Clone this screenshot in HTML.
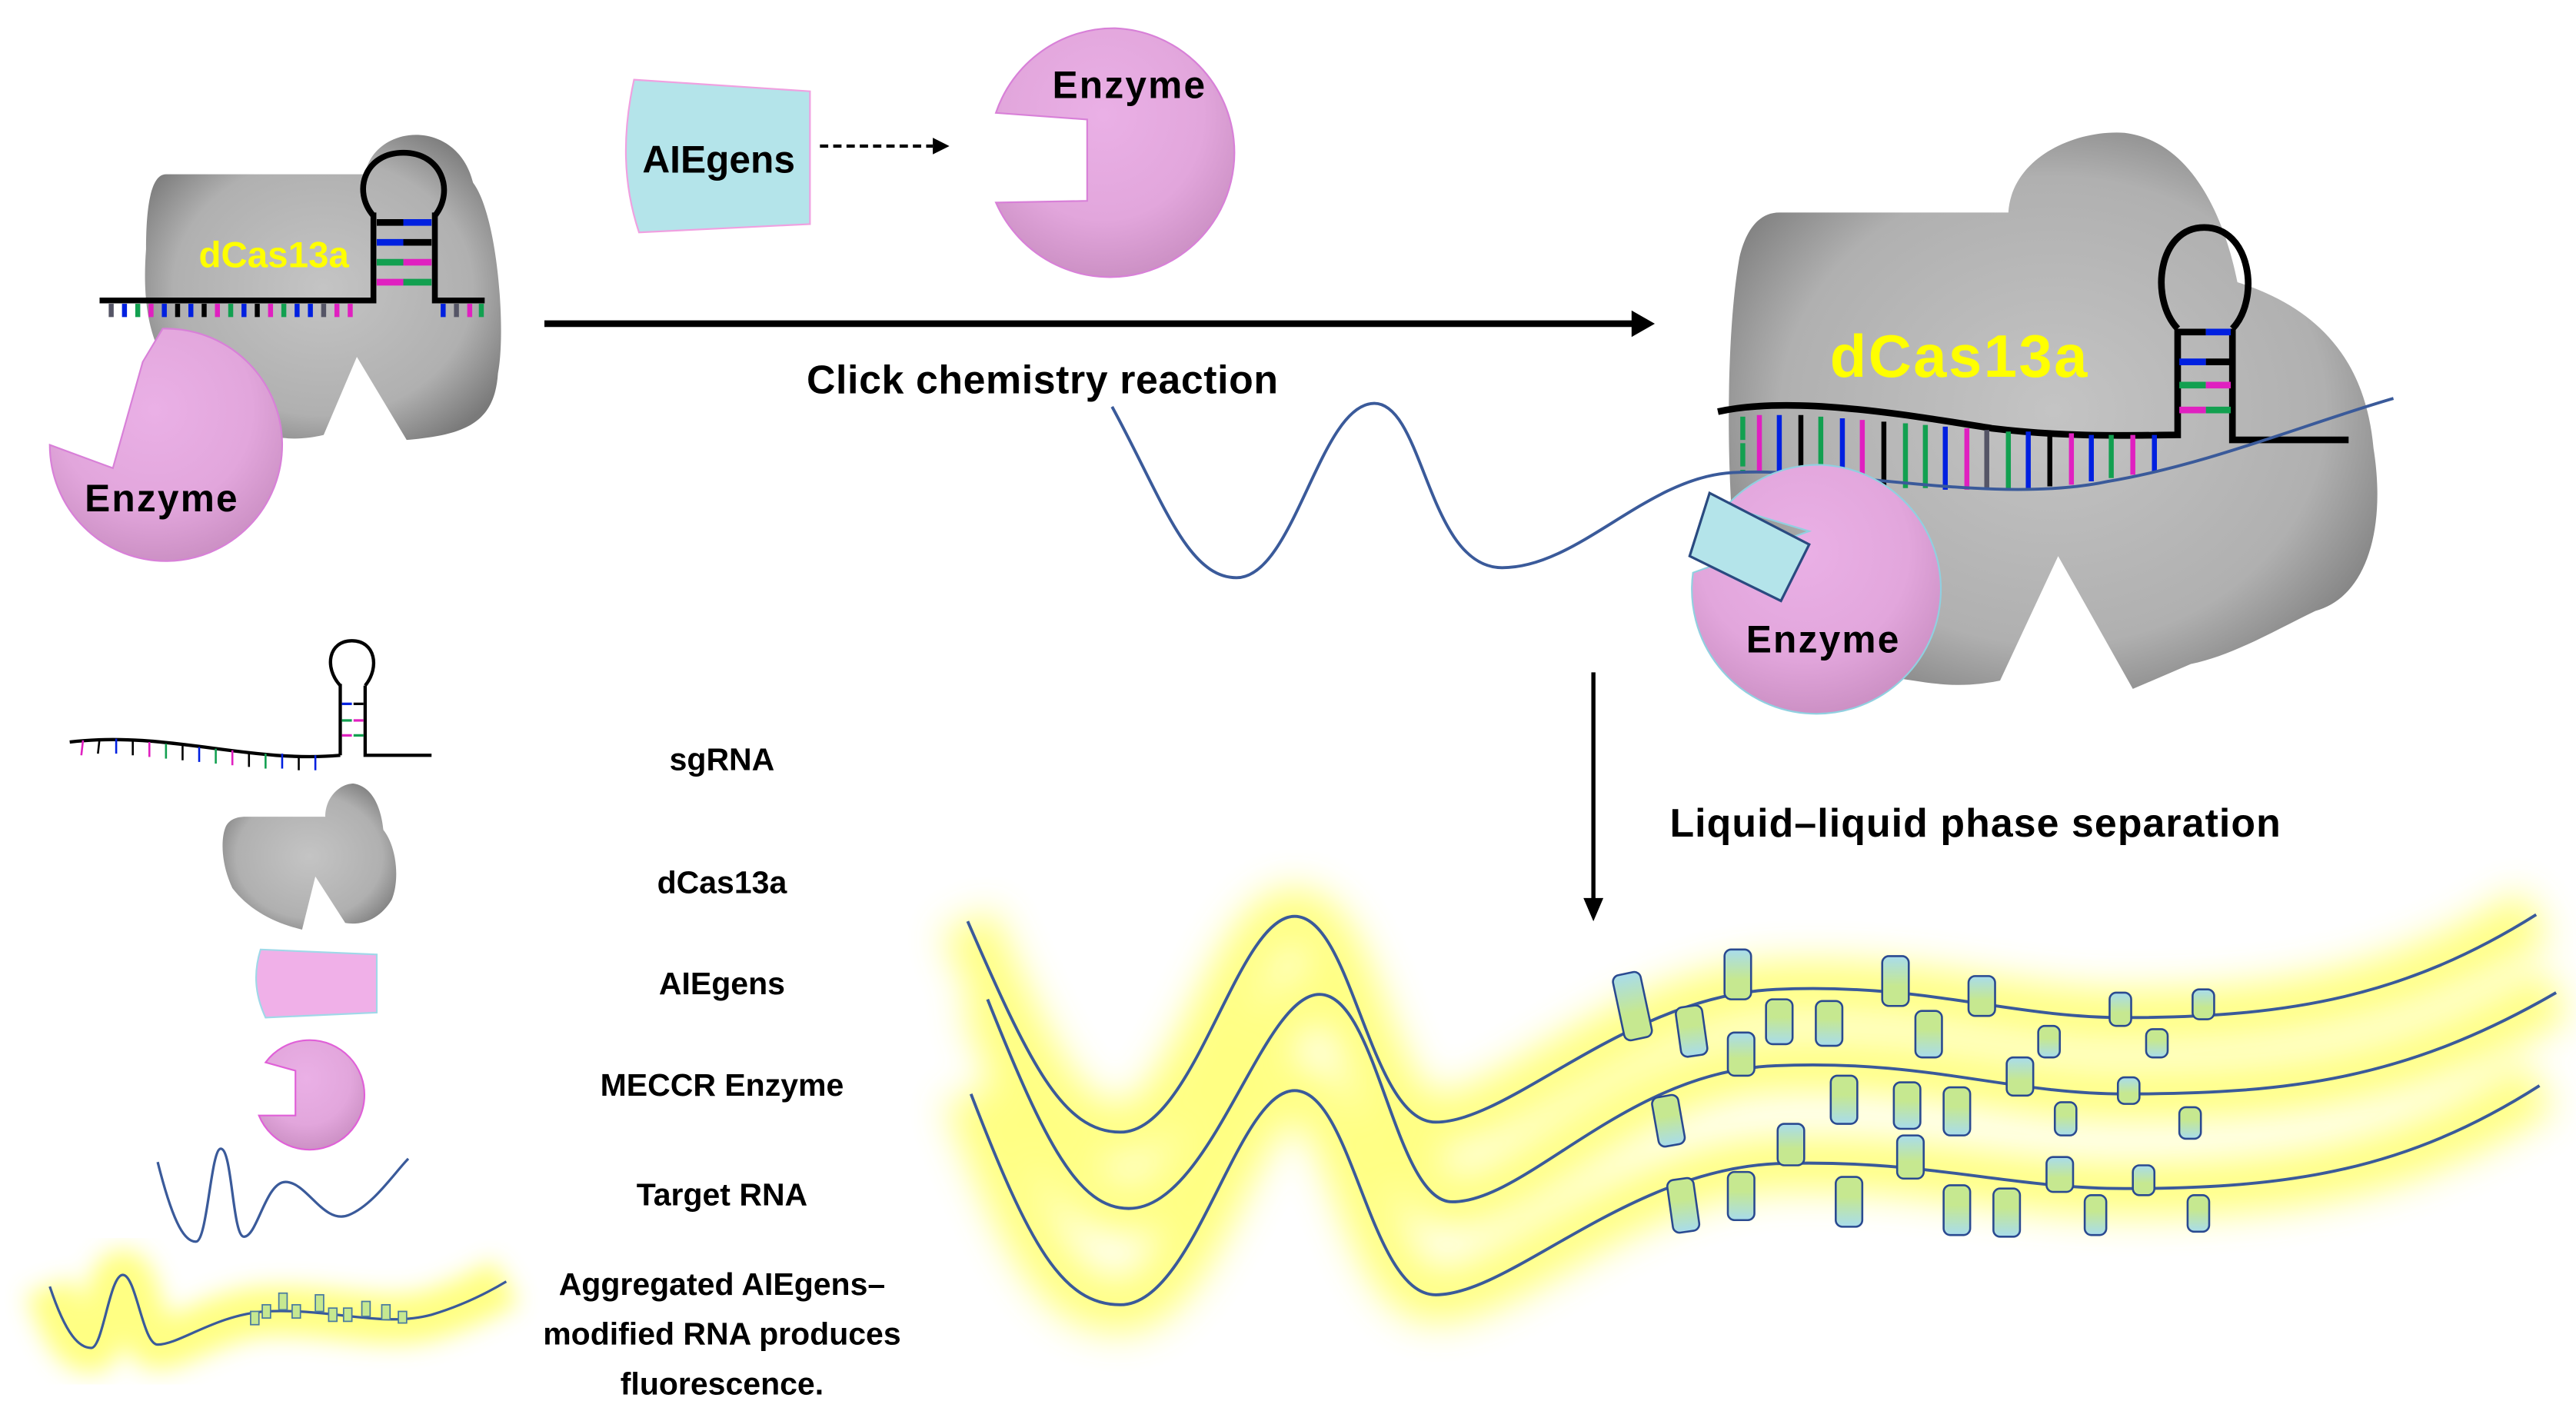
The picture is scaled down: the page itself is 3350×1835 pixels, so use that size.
<!DOCTYPE html>
<html><head><meta charset="utf-8"><style>
html,body{margin:0;padding:0;background:#fff}
svg{display:block}
text{font-family:"Liberation Sans",sans-serif;font-weight:bold}
</style></head><body>
<svg width="3350" height="1835" viewBox="0 0 1552 850" preserveAspectRatio="none" xmlns="http://www.w3.org/2000/svg">
<defs>
<radialGradient id="gray" cx="50%" cy="50%" r="60%"><stop offset="0" stop-color="#c4c4c4"/><stop offset="0.7" stop-color="#b0b0b0"/><stop offset="1" stop-color="#7a7a7a"/></radialGradient>
<radialGradient id="pink" cx="45%" cy="35%" r="70%"><stop offset="0" stop-color="#eab0e6"/><stop offset="0.6" stop-color="#e2a6dc"/><stop offset="1" stop-color="#c88cc0"/></radialGradient>
<linearGradient id="blk" x1="0" y1="0" x2="0" y2="1"><stop offset="0" stop-color="#a8dcec"/><stop offset="0.6" stop-color="#c6e890"/><stop offset="1" stop-color="#c6e890"/></linearGradient>
<linearGradient id="blk2" x1="0" y1="0" x2="0" y2="1"><stop offset="0" stop-color="#c6e890"/><stop offset="0.4" stop-color="#c6e890"/><stop offset="1" stop-color="#a8dcec"/></linearGradient>
<filter id="glow" x="-10%" y="-30%" width="120%" height="160%"><feGaussianBlur stdDeviation="11"/></filter>
<filter id="glow2" x="-10%" y="-50%" width="120%" height="200%"><feGaussianBlur stdDeviation="7"/></filter>
</defs>

<!-- top-left dCas13a -->
<g>
<path d="M100,105 L220,105 C225,75 275,70 285,110 C300,130 305,200 300,225 C298,255 280,262 245,265 L215,215 L195,262 C170,268 150,262 120,240 C92,220 85,190 88,150 C88,120 92,105 100,105Z" fill="url(#gray)"/>
<polyline points="60,181 225,181 225,128" fill="none" stroke="#000" stroke-width="3.5"/>
<polyline points="262,128 262,181 292,181" fill="none" stroke="#000" stroke-width="3.5"/>
<path d="M225,130 C212,115 220,92 243,92 C266,92 274,115 262,130" fill="none" stroke="#000" stroke-width="3.5"/>
<g stroke-width="4">
<line x1="227" y1="134" x2="243" y2="134" stroke="#000"/><line x1="243" y1="134" x2="260" y2="134" stroke="#0020e0"/>
<line x1="227" y1="146" x2="243" y2="146" stroke="#0020e0"/><line x1="243" y1="146" x2="260" y2="146" stroke="#000"/>
<line x1="227" y1="158" x2="243" y2="158" stroke="#12a050"/><line x1="243" y1="158" x2="260" y2="158" stroke="#e020c0"/>
<line x1="227" y1="170" x2="243" y2="170" stroke="#e020c0"/><line x1="243" y1="170" x2="260" y2="170" stroke="#12a050"/>
</g>
<g stroke-width="3">
<line x1="67" y1="183" x2="67" y2="191" stroke="#556"/><line x1="75" y1="183" x2="75" y2="191" stroke="#0020e0"/><line x1="83" y1="183" x2="83" y2="191" stroke="#12a050"/><line x1="91" y1="183" x2="91" y2="191" stroke="#e020c0"/><line x1="99" y1="183" x2="99" y2="191" stroke="#0020e0"/><line x1="107" y1="183" x2="107" y2="191" stroke="#000"/><line x1="115" y1="183" x2="115" y2="191" stroke="#0020e0"/><line x1="123" y1="183" x2="123" y2="191" stroke="#000"/><line x1="131" y1="183" x2="131" y2="191" stroke="#e020c0"/><line x1="139" y1="183" x2="139" y2="191" stroke="#12a050"/><line x1="147" y1="183" x2="147" y2="191" stroke="#0020e0"/><line x1="155" y1="183" x2="155" y2="191" stroke="#000"/><line x1="163" y1="183" x2="163" y2="191" stroke="#e020c0"/><line x1="171" y1="183" x2="171" y2="191" stroke="#12a050"/><line x1="179" y1="183" x2="179" y2="191" stroke="#0020e0"/><line x1="187" y1="183" x2="187" y2="191" stroke="#0020e0"/><line x1="195" y1="183" x2="195" y2="191" stroke="#556"/><line x1="203" y1="183" x2="203" y2="191" stroke="#e020c0"/><line x1="211" y1="183" x2="211" y2="191" stroke="#e020c0"/>
<line x1="267" y1="183" x2="267" y2="191" stroke="#0020e0"/><line x1="275" y1="183" x2="275" y2="191" stroke="#556"/><line x1="283" y1="183" x2="283" y2="191" stroke="#e020c0"/><line x1="290" y1="183" x2="290" y2="191" stroke="#12a050"/>
</g>
<text x="165" y="161" font-size="22" fill="#ffff00" text-anchor="middle">dCas13a</text>
<path d="M98,198 A70,70 0 1 1 30,268 L68,282 L86,218 Z" fill="url(#pink)" stroke="#d880d8" stroke-width="1"/>
<text x="97" y="308" font-size="23" fill="#000" text-anchor="middle" textLength="92">Enzyme</text>
</g>

<!-- AIEgens + arrow + enzyme -->
<path d="M382,48 L488,55 L488,135 L385,140 C375,110 375,80 382,48Z" fill="#b4e4ea" stroke="#f0a0e0" stroke-width="1"/>
<text x="433" y="104" font-size="23" text-anchor="middle" textLength="92">AIEgens</text>
<line x1="494" y1="88" x2="562" y2="88" stroke="#000" stroke-width="2" stroke-dasharray="5,3"/>
<polygon points="562,83 572,88 562,93" fill="#000"/>
<path d="M600,68 A75,75 0 0 1 672,17 A75,75 0 1 1 600,122 L655,121 L655,72 Z" fill="url(#pink)" stroke="#d880d8" stroke-width="1"/>
<text x="680" y="59" font-size="23" text-anchor="middle" textLength="92">Enzyme</text>

<!-- main arrow -->
<line x1="328" y1="195" x2="985" y2="195" stroke="#000" stroke-width="4"/>
<polygon points="983,187 997,195 983,203" fill="#000"/>
<text x="628" y="237" font-size="24" text-anchor="middle" textLength="284">Click chemistry reaction</text>

<!-- right dCas13a -->
<path d="M1072,128 L1210,128 C1212,95 1250,78 1280,80 C1320,85 1340,130 1348,170 C1395,185 1425,215 1430,270 C1438,320 1425,360 1395,368 C1370,380 1345,395 1320,400 L1285,415 L1240,335 L1205,410 C1180,415 1165,412 1140,408 C1090,400 1055,370 1045,330 C1040,280 1040,200 1048,155 C1052,138 1060,128 1072,128Z" fill="url(#gray)"/>
<path d="M1035,248 C1080,238 1150,250 1200,258 C1250,264 1290,262 1312,262 L1312,198" fill="none" stroke="#000" stroke-width="4"/>
<path d="M1312,198 C1295,180 1300,137 1328,137 C1356,137 1362,180 1345,198" fill="none" stroke="#000" stroke-width="4"/>
<polyline points="1345,198 1345,265 1415,265" fill="none" stroke="#000" stroke-width="4"/>
<g stroke-width="4">
<line x1="1313" y1="200" x2="1329" y2="200" stroke="#000"/><line x1="1329" y1="200" x2="1344" y2="200" stroke="#0020e0"/>
<line x1="1313" y1="218" x2="1329" y2="218" stroke="#0020e0"/><line x1="1329" y1="218" x2="1344" y2="218" stroke="#000"/>
<line x1="1313" y1="232" x2="1329" y2="232" stroke="#12a050"/><line x1="1329" y1="232" x2="1344" y2="232" stroke="#e020c0"/>
<line x1="1313" y1="247" x2="1329" y2="247" stroke="#e020c0"/><line x1="1329" y1="247" x2="1344" y2="247" stroke="#12a050"/>
</g>
<g stroke-width="3">
<line x1="1050" y1="251" x2="1050" y2="285" stroke="#12a050" stroke-dasharray="14,2"/>
<line x1="1060" y1="250" x2="1060" y2="285" stroke="#e020c0"/>
<line x1="1072" y1="250" x2="1072" y2="288" stroke="#0020e0"/>
<line x1="1085" y1="250" x2="1085" y2="288" stroke="#000"/>
<line x1="1097" y1="251" x2="1097" y2="290" stroke="#12a050"/>
<line x1="1110" y1="252" x2="1110" y2="290" stroke="#0020e0"/>
<line x1="1122" y1="253" x2="1122" y2="292" stroke="#e020c0"/>
<line x1="1135" y1="254" x2="1135" y2="293" stroke="#000"/>
<line x1="1148" y1="255" x2="1148" y2="294" stroke="#12a050"/>
<line x1="1160" y1="256" x2="1160" y2="294" stroke="#12a050"/>
<line x1="1172" y1="257" x2="1172" y2="295" stroke="#0020e0"/>
<line x1="1185" y1="258" x2="1185" y2="295" stroke="#e020c0"/>
<line x1="1197" y1="259" x2="1197" y2="295" stroke="#556"/>
<line x1="1210" y1="260" x2="1210" y2="295" stroke="#12a050"/>
<line x1="1222" y1="260" x2="1222" y2="294" stroke="#0020e0"/>
<line x1="1235" y1="261" x2="1235" y2="293" stroke="#000"/>
<line x1="1248" y1="261" x2="1248" y2="292" stroke="#e020c0"/>
<line x1="1260" y1="262" x2="1260" y2="290" stroke="#0020e0"/>
<line x1="1272" y1="262" x2="1272" y2="288" stroke="#12a050"/>
<line x1="1285" y1="262" x2="1285" y2="286" stroke="#e020c0"/>
<line x1="1298" y1="262" x2="1298" y2="284" stroke="#0020e0"/>
</g>
<text x="1180" y="227" font-size="36" fill="#ffff00" text-anchor="middle" textLength="155">dCas13a</text>
<!-- target RNA top -->
<path d="M670,245 C700,300 715,348 745,348 C780,348 795,243 828,243 C858,243 860,342 905,342 C950,342 990,290 1040,285 C1100,280 1200,305 1270,290 C1330,280 1390,255 1442,240" fill="none" stroke="#3a5a9a" stroke-width="1.8"/>
<path d="M1095,280 A75,75 0 1 1 1020,345 L1090,320 L1040,305 A75,75 0 0 1 1095,280Z" fill="url(#pink)" stroke="#90d0e0" stroke-width="1"/>
<polygon points="1030,297 1090,328 1073,362 1018,335" fill="#b4e4ea" stroke="#2a4a80" stroke-width="1.5"/>
<text x="1098" y="393" font-size="23" text-anchor="middle" textLength="92">Enzyme</text>

<!-- down arrow -->
<line x1="960" y1="405" x2="960" y2="543" stroke="#000" stroke-width="2.5"/>
<polygon points="954,541 960,555 966,541" fill="#000"/>
<text x="1190" y="504" font-size="24" text-anchor="middle" textLength="368">Liquid–liquid phase separation</text>

<!-- glowing strands -->
<g fill="none" stroke="#ffff50" stroke-width="34" opacity="0.7" filter="url(#glow)">
<path d="M583,555 C620,640 640,682 675,682 C720,682 745,552 780,552 C815,552 825,676 865,676 C910,676 980,600 1070,596 C1160,592 1210,613 1280,613 C1380,613 1450,600 1528,551"/>
<path d="M595,602 C630,690 650,728 680,728 C730,728 760,599 795,599 C830,599 840,724 875,724 C920,724 980,645 1070,642 C1160,638 1210,659 1280,659 C1380,659 1450,650 1540,598"/>
<path d="M585,659 C620,750 640,786 675,786 C720,786 745,657 780,657 C815,657 825,780 865,780 C910,780 980,705 1070,701 C1160,698 1210,716 1280,716 C1380,716 1450,705 1530,654"/>
</g>
<g fill="none" stroke="#3a5a9a" stroke-width="1.8">
<path d="M583,555 C620,640 640,682 675,682 C720,682 745,552 780,552 C815,552 825,676 865,676 C910,676 980,600 1070,596 C1160,592 1210,613 1280,613 C1380,613 1450,600 1528,551"/>
<path d="M595,602 C630,690 650,728 680,728 C730,728 760,599 795,599 C830,599 840,724 875,724 C920,724 980,645 1070,642 C1160,638 1210,659 1280,659 C1380,659 1450,650 1540,598"/>
<path d="M585,659 C620,750 640,786 675,786 C720,786 745,657 780,657 C815,657 825,780 865,780 C910,780 980,705 1070,701 C1160,698 1210,716 1280,716 C1380,716 1450,705 1530,654"/>
</g>
<g stroke="#2a4a90" stroke-width="1.2">
<g fill="url(#blk)">
<rect x="975" y="586" width="17" height="40" rx="4" transform="rotate(-12 984 606)"/>
<rect x="1039" y="572" width="16" height="30" rx="4"/>
<rect x="1134" y="576" width="16" height="30" rx="4"/>
<rect x="1186" y="588" width="16" height="24" rx="4"/>
<rect x="1271" y="598" width="13" height="20" rx="4"/>
<rect x="1321" y="596" width="13" height="18" rx="4"/>
<rect x="1041" y="622" width="16" height="26" rx="4"/>
<rect x="1209" y="637" width="16" height="23" rx="4"/>
<rect x="1276" y="649" width="13" height="16" rx="4"/>
<rect x="1071" y="677" width="16" height="25" rx="4"/>
<rect x="1143" y="684" width="16" height="26" rx="4"/>
<rect x="1233" y="697" width="16" height="21" rx="4"/>
<rect x="1285" y="702" width="13" height="18" rx="4"/>
</g>
<g fill="url(#blk2)">
<rect x="1011" y="606" width="16" height="30" rx="4" transform="rotate(-8 1020 620)"/>
<rect x="1064" y="602" width="16" height="27" rx="4"/>
<rect x="1094" y="603" width="16" height="27" rx="4"/>
<rect x="1154" y="609" width="16" height="28" rx="4"/>
<rect x="1228" y="618" width="13" height="19" rx="4"/>
<rect x="1293" y="620" width="13" height="17" rx="4"/>
<rect x="997" y="660" width="16" height="30" rx="4" transform="rotate(-10 1006 674)"/>
<rect x="1103" y="648" width="16" height="29" rx="4"/>
<rect x="1141" y="652" width="16" height="28" rx="4"/>
<rect x="1171" y="655" width="16" height="29" rx="4"/>
<rect x="1238" y="664" width="13" height="20" rx="4"/>
<rect x="1313" y="667" width="13" height="19" rx="4"/>
<rect x="1006" y="710" width="16" height="32" rx="4" transform="rotate(-8 1015 725)"/>
<rect x="1041" y="706" width="16" height="29" rx="4"/>
<rect x="1106" y="709" width="16" height="30" rx="4"/>
<rect x="1171" y="714" width="16" height="30" rx="4"/>
<rect x="1201" y="716" width="16" height="29" rx="4"/>
<rect x="1256" y="720" width="13" height="24" rx="4"/>
<rect x="1318" y="720" width="13" height="22" rx="4"/>
</g>
</g>

<!-- Legend -->
<path d="M42,447 C100,440 150,460 205,455" fill="none" stroke="#000" stroke-width="2"/>
<polyline points="205,455 205,412" fill="none" stroke="#000" stroke-width="2"/>
<path d="M205,413 C195,402 198,386 212,386 C226,386 229,402 220,413" fill="none" stroke="#000" stroke-width="2"/>
<polyline points="220,413 220,455 260,455" fill="none" stroke="#000" stroke-width="2"/>
<g stroke-width="1.5"><line x1="206" y1="424" x2="212" y2="424" stroke="#0020e0"/><line x1="213" y1="424" x2="219" y2="424" stroke="#000"/><line x1="206" y1="434" x2="212" y2="434" stroke="#12a050"/><line x1="213" y1="434" x2="219" y2="434" stroke="#e020c0"/><line x1="206" y1="443" x2="212" y2="443" stroke="#e020c0"/><line x1="213" y1="443" x2="219" y2="443" stroke="#12a050"/></g>
<g stroke-width="1.2"><line x1="50" y1="446" x2="49" y2="455" stroke="#e020c0"/><line x1="60" y1="445" x2="59" y2="454" stroke="#000"/><line x1="70" y1="445" x2="70" y2="454" stroke="#0020e0"/><line x1="80" y1="446" x2="80" y2="455" stroke="#000"/><line x1="90" y1="447" x2="90" y2="456" stroke="#e020c0"/><line x1="100" y1="448" x2="100" y2="457" stroke="#12a050"/><line x1="110" y1="449" x2="110" y2="458" stroke="#000"/><line x1="120" y1="450" x2="120" y2="459" stroke="#0020e0"/><line x1="130" y1="451" x2="130" y2="460" stroke="#12a050"/><line x1="140" y1="452" x2="140" y2="461" stroke="#e020c0"/><line x1="150" y1="453" x2="150" y2="462" stroke="#000"/><line x1="160" y1="454" x2="160" y2="463" stroke="#12a050"/><line x1="170" y1="454" x2="170" y2="463" stroke="#0020e0"/><line x1="180" y1="455" x2="180" y2="464" stroke="#000"/><line x1="190" y1="455" x2="190" y2="464" stroke="#0020e0"/></g>
<text x="435" y="464" font-size="19" text-anchor="middle">sgRNA</text>

<path d="M148,492 L196,492 C196,480 205,472 213,472 C226,474 230,490 231,500 C239,510 241,530 236,542 C230,552 220,558 208,556 L190,528 L182,560 C165,556 150,548 140,535 C133,520 133,505 136,498 C138,494 142,492 148,492Z" fill="url(#gray)"/>
<text x="435" y="538" font-size="19" text-anchor="middle">dCas13a</text>

<path d="M157,572 L227,575 L227,610 L160,613 C153,598 153,585 157,572Z" fill="#f0b0e8" stroke="#a0d8e8" stroke-width="1"/>
<text x="435" y="599" font-size="19" text-anchor="middle">AIEgens</text>

<path d="M160,640 A33,33 0 1 1 156,672 L178,672 L178,645 Z" fill="url(#pink)" stroke="#e060d8" stroke-width="1"/>
<text x="435" y="660" font-size="19" text-anchor="middle">MECCR Enzyme</text>

<path d="M95,700 C105,740 112,748 118,748 C125,748 127,692 133,692 C140,692 140,745 147,745 C155,745 160,712 172,712 C185,712 195,738 210,732 C225,726 238,706 246,698" fill="none" stroke="#3a5a9a" stroke-width="1.5"/>
<text x="435" y="726" font-size="19" text-anchor="middle">Target RNA</text>

<path d="M30,775 C40,805 48,812 55,812 C62,812 66,768 74,768 C82,768 86,810 95,810 C108,810 130,792 160,790 C200,788 230,800 260,792 C280,786 295,778 305,772" fill="none" stroke="#ffff50" stroke-width="30" opacity="0.7" filter="url(#glow2)"/>
<path d="M30,775 C40,805 48,812 55,812 C62,812 66,768 74,768 C82,768 86,810 95,810 C108,810 130,792 160,790 C200,788 230,800 260,792 C280,786 295,778 305,772" fill="none" stroke="#3a5a9a" stroke-width="1.5"/>
<g fill="#c6e890" stroke="#4a7aa0" stroke-width="0.8">
<rect x="151" y="790" width="5" height="8"/><rect x="158" y="786" width="5" height="8"/><rect x="168" y="779" width="5" height="10"/><rect x="176" y="786" width="5" height="8"/><rect x="190" y="780" width="5" height="10"/><rect x="198" y="788" width="5" height="8"/><rect x="207" y="788" width="5" height="8"/><rect x="218" y="784" width="5" height="9"/><rect x="230" y="786" width="5" height="9"/><rect x="240" y="790" width="5" height="7"/>
</g>
<text x="435" y="780" font-size="19" text-anchor="middle">Aggregated AIEgens–</text>
<text x="435" y="810" font-size="19" text-anchor="middle">modified RNA produces</text>
<text x="435" y="840" font-size="19" text-anchor="middle">fluorescence.</text>
</svg>
</body></html>
